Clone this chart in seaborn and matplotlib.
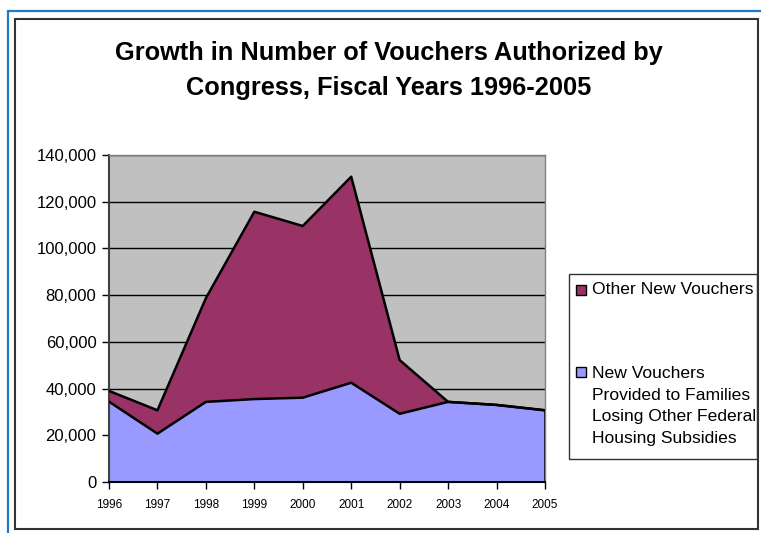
import numpy as np
import pandas as pd
import matplotlib
matplotlib.use("Agg")
import matplotlib.pyplot as plt
import seaborn as sns
from matplotlib.patches import Rectangle
from matplotlib.lines import Line2D
from matplotlib.ticker import FuncFormatter

# ---- data ----
years = [1996, 1997, 1998, 1999, 2000, 2001, 2002, 2003, 2004, 2005]
families_losing = [34400, 20700, 34300, 35500, 36100, 42500, 29200, 34300, 33000, 30700]
other_new = [4600, 10000, 44400, 80200, 73500, 88200, 23000, 0, 0, 0]
series_labels = ["Other New Vouchers",
                 "New Vouchers\nProvided to Families\nLosing Other Federal\nHousing Subsidies"]
title_lines = ["Growth in Number of Vouchers Authorized by",
               "Congress, Fiscal Years 1996-2005"]
y_ticks = [0, 20000, 40000, 60000, 80000, 100000, 120000, 140000]

COL_OTHER = "#993366"
COL_FAM = "#9999FF"

sns.set_style("white")
plt.rcParams['font.family'] = ['Liberation Sans', 'DejaVu Sans']
plt.rcParams['text.color'] = 'black'
plt.rcParams['axes.labelcolor'] = 'black'
plt.rcParams['xtick.color'] = 'black'
plt.rcParams['ytick.color'] = 'black'

W, H = 761, 533
fig = plt.figure(figsize=(W / 100, H / 100), dpi=100)
fig.patch.set_facecolor("white")

def fx(px):
    return px / W

def fy(py):
    return 1 - py / H

ax = fig.add_axes([fx(109), fy(482), fx(545) - fx(109), fy(155) - fy(482)])
ax.set_facecolor("#C0C0C0")
ax.set_axisbelow(True)

df = pd.DataFrame({"year": years, "fam": families_losing, "other": other_new})
df["total"] = df["fam"] + df["other"]

ax.stackplot(df["year"], df["fam"], df["other"], colors=[COL_FAM, COL_OTHER],
             linewidth=0, zorder=2)
sns.lineplot(data=df, x="year", y="fam", color="black", linewidth=1.8, ax=ax, zorder=3)
sns.lineplot(data=df, x="year", y="total", color="black", linewidth=1.8, ax=ax, zorder=3)
ax.plot([years[-1], years[-1]], [0, families_losing[-1]], color="black", lw=1.8, zorder=3)

ax.set_xlim(years[0], years[-1])
ax.set_ylim(0, 140000)
ax.set_xticks(years)
ax.set_xticklabels([str(y) for y in years])
ax.set_yticks(y_ticks)
ax.yaxis.set_major_formatter(FuncFormatter(lambda v, p: f"{v:,.0f}"))
ax.set_xlabel("")
ax.set_ylabel("")
ax.yaxis.grid(True, color="black", linewidth=1.0)
ax.xaxis.grid(False)

ax.tick_params(axis="y", left=True, direction="out", length=5, width=1,
               color="black", labelsize=12, pad=4, labelcolor="black")
ax.tick_params(axis="x", bottom=True, direction="out", length=5, width=1,
               color="black", labelsize=8.5, pad=7, labelcolor="black")

ax.spines["left"].set_color("#404040")
ax.spines["left"].set_linewidth(1.5)
ax.spines["bottom"].set_color("black")
ax.spines["bottom"].set_linewidth(1.5)
for s in ["top", "right"]:
    ax.spines[s].set_color("#808080")
    ax.spines[s].set_linewidth(1.0)

# title
fig.text(fx(389), fy(60), title_lines[0], ha="center", va="baseline",
         fontsize=18.3, fontweight="bold", color="black")
fig.text(fx(389), fy(95), title_lines[1], ha="center", va="baseline",
         fontsize=18.3, fontweight="bold", color="black")

# outer borders
fig.add_artist(Line2D([fx(8), 1], [fy(11), fy(11)], color="#1F78C8", lw=1.6))
fig.add_artist(Line2D([fx(8), fx(8)], [fy(11), 0], color="#1F78C8", lw=1.6))
fig.add_artist(Rectangle((fx(15), fy(529)), fx(758) - fx(15), fy(19) - fy(529),
                         fill=False, ec="#333333", lw=1.5))

# legend (manual, Excel style)
fig.add_artist(Rectangle((fx(569), fy(459)), fx(757) - fx(569), fy(274) - fy(459),
                         fill=False, ec="#333333", lw=1.0))
fig.add_artist(Rectangle((fx(576), fy(295)), fx(10), fy(0) - fy(10),
                         fc=COL_OTHER, ec="black", lw=1.0))
fig.text(fx(592), fy(294), series_labels[0], ha="left", va="baseline",
         fontsize=12.6, color="black")
fig.add_artist(Rectangle((fx(576), fy(377)), fx(10), fy(0) - fy(10),
                         fc=COL_FAM, ec="black", lw=1.0))
for i, line in enumerate(series_labels[1].split("\n")):
    fig.text(fx(592), fy(378 + 21.7 * i), line, ha="left", va="baseline",
             fontsize=12.6, color="black")

fig.savefig("out.png", dpi=100)
